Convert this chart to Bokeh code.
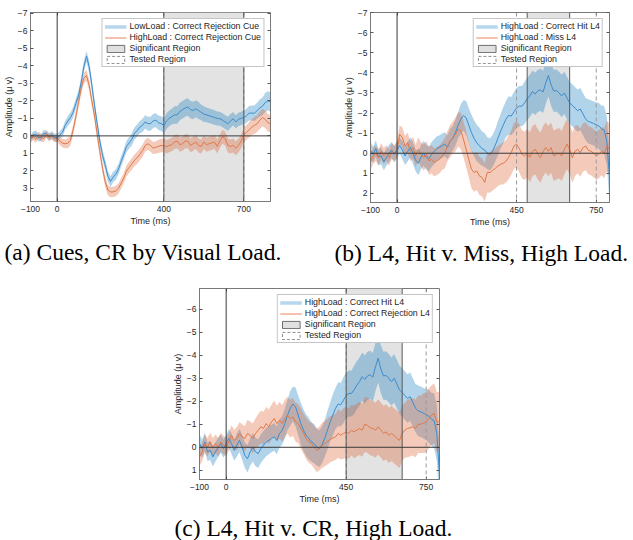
import numpy as np
from bokeh.plotting import figure
from bokeh.models import (ColumnDataSource, Range1d, FixedTicker, Span, BoxAnnotation,
                          Legend, LegendItem, LinearAxis, CustomJSTickFormatter)
from bokeh.layouts import row, column
from bokeh.embed import file_html
from bokeh.resources import INLINE

# ---------------- data ----------------
time_ms = list(range(-100, 801, 10))

# (a) Cues, CR by visual load
cue_low_cr = [0.15, -0.05, -0.10, 0.10, 0.10, -0.15, -0.10, 0.05, -0.05, 0.10, 0.10,
              -0.05, -0.20, -0.60, -0.85, -1.05, -1.35, -1.85, -2.30, -3.05, -3.95,
              -4.55, -3.95, -2.90, -1.75, -0.70, 0.30, 1.10, 1.65, 2.30, 2.60,
              2.35, 2.20, 1.90, 1.45, 1.05, 0.60, 0.40, 0.20, -0.15, -0.30,
              -0.50, -0.60, -0.80, -0.70, -0.70, -0.85, -0.90, -0.75, -0.70, -0.60,
              -0.85, -1.00, -1.10, -1.20, -1.20, -1.40, -1.50, -1.60, -1.65, -1.50,
              -1.45, -1.55, -1.45, -1.35, -1.25, -1.20, -1.15, -1.10, -1.05, -1.00,
              -0.98, -0.90, -0.80, -0.70, -0.85, -0.98, -0.80, -0.95, -1.00, -1.05,
              -1.15, -1.30, -1.30, -1.30, -1.45, -1.60, -1.70, -1.90, -2.00, -1.95]
cue_high_cr = [0.20, 0.05, 0.20, -0.05, 0.10, 0.15, -0.10, 0.10, 0.00, 0.15, 0.15,
               0.30, 0.42, 0.45, 0.42, 0.25, -0.35, -1.10, -1.90, -2.70, -3.30,
               -3.45, -2.90, -2.00, -1.15, -0.10, 0.90, 1.85, 2.60, 3.10, 3.20,
               3.20, 3.15, 3.00, 2.70, 2.40, 2.00, 1.80, 1.60, 1.40, 1.25,
               1.05, 0.85, 0.55, 0.45, 0.55, 0.70, 0.65, 0.60, 0.55, 0.55,
               0.62, 0.55, 0.50, 0.35, 0.30, 0.50, 0.45, 0.30, 0.30, 0.55,
               0.45, 0.35, 0.55, 0.60, 0.35, 0.50, 0.45, 0.40, 0.35, 0.60,
               0.30, 0.05, 0.15, 0.55, 0.60, 0.55, 0.70, 0.55, 0.30, -0.05,
               -0.20, -0.35, -0.50, -0.60, -0.70, -0.90, -1.05, -0.95, -0.75, -0.70]
# half-widths of the shaded bands, every 20 ms
cue_low_hw = [0.20, 0.22, 0.20, 0.20, 0.22, 0.22,
              0.25, 0.28, 0.30, 0.30, 0.32, 0.35, 0.30, 0.30, 0.30, 0.30,
              0.30, 0.30, 0.32, 0.35, 0.35, 0.38, 0.40, 0.40, 0.42, 0.45,
              0.45, 0.50, 0.50, 0.50, 0.50, 0.48, 0.45, 0.42, 0.42, 0.40,
              0.40, 0.40, 0.38, 0.38, 0.40, 0.42, 0.45, 0.50, 0.55, 0.55]
cue_high_hw = [0.20, 0.20, 0.22, 0.20, 0.20, 0.22,
               0.25, 0.28, 0.30, 0.30, 0.32, 0.30, 0.30, 0.30, 0.30, 0.30,
               0.30, 0.30, 0.32, 0.33, 0.35, 0.35, 0.35, 0.35, 0.38, 0.38,
               0.38, 0.40, 0.40, 0.40, 0.40, 0.40, 0.40, 0.40, 0.40, 0.40,
               0.40, 0.40, 0.40, 0.40, 0.42, 0.45, 0.48, 0.50, 0.50, 0.50]

# L4, high load
l4_hit = [-0.16, 0.06, -0.23, 0.20, 0.13, 0.42, 0.20, 0.00, -0.16, 0.06, -0.16,
          -0.38, -0.16, 0.13, -0.09, -0.30, 0.00, 0.35, 0.50, 0.20, 0.00,
          0.20, 0.28, 0.06, -0.09, -0.23, -0.30, -0.38, -0.45, -0.30, -0.60,
          -0.74, -1.03, -1.40, -1.69, -1.88, -1.76, -1.40, -1.03, -0.74, -0.52,
          -0.38, -0.23, -0.16, 0.00, 0.06, -0.12, -0.40, -0.75, -1.10, -1.40,
          -1.69, -1.88, -1.85, -2.05, -2.25, -2.34, -2.34, -2.50, -2.70, -2.85,
          -3.07, -2.95, -3.10, -3.15, -3.05, -3.50, -3.87, -3.40, -3.10, -3.12,
          -3.00, -2.85, -3.00, -2.75, -2.50, -2.38, -2.25, -2.12, -2.20, -1.95,
          -1.70, -1.58, -1.54, -1.48, -1.42, -1.35, -1.22, -1.15, -0.60, 1.20]
l4_miss = [0.45, 0.13, 0.00, 0.22, -0.10, 0.13, 0.00, 0.22, -0.10, 0.00, -0.20,
           -0.94, -0.78, -0.36, -0.53, -0.10, -0.28, 0.13, -0.20, 0.05, 0.22,
           0.05, 0.38, 0.30, 0.46, 0.38, 0.30, 0.13, 0.00, -0.36, -0.60,
           -0.78, -0.94, -1.19, -1.11, -0.70, -0.20, 0.30, 0.79, 0.96, 0.88,
           1.13, 1.20, 1.45, 0.95, 0.96, 0.85, 0.75, 0.63, 0.55, 0.50,
           0.40, 0.20, -0.03, -0.36, -0.45, -0.25, 0.05, 0.13, 0.00, 0.20,
           -0.10, -0.20, 0.05, 0.22, -0.10, -0.28, -0.10, -0.28, 0.13, 0.05,
           0.00, 0.13, -0.20, -0.45, -0.20, 0.22, -0.10, -0.20, -0.03, -0.28,
           -0.36, -0.15, -0.10, 0.00, 0.13, 0.05, -0.10, 0.00, -0.36, -0.20]
l4_cr = [0.42, 0.20, -0.16, 0.00, -0.23, 0.00, -0.16, 0.00, -0.23, -0.10, 0.00,
         -0.23, -0.52, -0.30, -0.38, -0.60, -0.45, -0.38, -0.60, -0.52, -0.38,
         -0.60, -0.74, -0.89, -0.82, -1.03, -0.89, -1.10, -1.25, -1.03, -1.18,
         -1.03, -1.25, -1.40, -1.25, -1.32, -1.10, -1.03, -0.82, -0.60, -0.38,
         -0.23, -0.16, 0.00, 0.13, 0.05, -0.09, -0.16, -0.25, -0.35, -0.40,
         -0.45, -0.60, -0.52, -0.60, -0.65, -0.60, -0.74, -0.67, -0.75, -0.82,
         -0.74, -1.00, -0.95, -0.85, -0.82, -0.74, -0.89, -0.75, -0.60, -0.67,
         -0.52, -0.60, -0.50, -0.40, -0.30, -0.60, -0.74, -0.82, -0.85, -0.89,
         -0.82, -1.00, -1.00, -1.05, -1.10, -1.25, -1.40, -1.47, -1.10, -1.10]
l4_hit_hw = [0.40, 0.40, 0.42, 0.42, 0.40, 0.40,
             0.45, 0.50, 0.55, 0.60, 0.62, 0.62, 0.62, 0.60, 0.60, 0.62,
             0.65, 0.75, 0.85, 0.90, 0.90, 0.85, 0.80, 0.80, 0.85, 0.90,
             0.95, 1.00, 1.00, 1.05, 1.05, 1.05, 1.05, 1.05, 1.05, 1.05,
             1.05, 1.05, 1.05, 1.05, 1.05, 1.10, 1.10, 1.15, 1.20, 1.25]
l4_miss_hw = [0.40, 0.40, 0.40, 0.40, 0.40, 0.45,
              0.50, 0.50, 0.55, 0.60, 0.65, 0.70, 0.70, 0.70, 0.75, 0.80,
              0.85, 0.90, 0.90, 0.95, 0.95, 0.95, 1.00, 1.00, 1.00, 1.05,
              1.10, 1.15, 1.20, 1.20, 1.25, 1.25, 1.25, 1.25, 1.25, 1.25,
              1.25, 1.25, 1.25, 1.20, 1.20, 1.20, 1.20, 1.20, 1.25, 1.25]
l4_cr_hw = [0.40, 0.40, 0.40, 0.40, 0.40, 0.40,
            0.45, 0.50, 0.55, 0.60, 0.65, 0.70, 0.72, 0.75, 0.78, 0.80,
            0.80, 0.82, 0.85, 0.88, 0.90, 0.92, 0.95, 0.98, 1.00, 1.00,
            1.05, 1.10, 1.10, 1.15, 1.15, 1.20, 1.20, 1.20, 1.20, 1.20,
            1.20, 1.20, 1.20, 1.25, 1.25, 1.25, 1.30, 1.30, 1.30, 1.30]

# regions (ms)
sig_a, tested_a = [400, 700], [400, 700]
sig_b, tested_b = [490, 650], [450, 750]
sig_c, tested_c = [450, 660], [450, 750]

xticks_a = [-100, 0, 400, 700]
xticks_bc = [-100, 0, 450, 750]
yticks_a = [-7, -6, -5, -4, -3, -2, -1, 0, 1, 2, 3]
yticks_b = [-7, -6, -5, -4, -3, -2, -1, 0, 1, 2]
yticks_c = [-6, -5, -4, -3, -2, -1, 0, 1]

BLUE_BAND, BLUE_LINE = "#0072BD", "#3a8ccc"
ORANGE_BAND, ORANGE_LINE = "#D95319", "#e07848"
SANS = "Liberation Sans"
NAN = np.array([np.nan])
AXIS_COL = "#7a7a7a"
TICK_COL = "#555555"


def mirror_axis(p, ticks, side):
    ax = LinearAxis(ticker=FixedTicker(ticks=ticks),
                    formatter=CustomJSTickFormatter(code="return ''"),
                    major_tick_in=3, major_tick_out=0, minor_tick_line_color=None,
                    axis_line_color=None, major_tick_line_color=TICK_COL,
                    major_label_text_font_size="1px", major_label_standoff=0)
    p.add_layout(ax, side)


def make_panel(fw, fh, yr, xticks, yticks, caption, cap_off, cap_stand, borders):
    p = figure(frame_width=fw, frame_height=fh, x_range=Range1d(-100, 800),
               y_range=Range1d(yr[0], yr[1]), output_backend="svg",
               toolbar_location=None, title=caption, title_location="below",
               min_border_left=borders[0], min_border_right=borders[1],
               min_border_top=borders[2], min_border_bottom=borders[3],
               x_axis_label="Time (ms)", y_axis_label="Amplitude (\u03bc v)")
    p.title.text_font = "Liberation Serif"
    p.title.text_font_size = "23.5px"
    p.title.text_font_style = "normal"
    p.title.text_color = "black"
    p.title.align = "left"
    p.title.offset = cap_off
    p.title.standoff = cap_stand
    p.xaxis.ticker = FixedTicker(ticks=xticks)
    p.yaxis.ticker = FixedTicker(ticks=yticks)
    for ax in (p.xaxis[0], p.yaxis[0]):
        ax.major_tick_in = 3
        ax.major_tick_out = 0
        ax.minor_tick_line_color = None
        ax.axis_line_color = AXIS_COL
        ax.major_tick_line_color = TICK_COL
        ax.major_label_text_font = SANS
        ax.major_label_text_font_size = "8.5px"
        ax.major_label_text_color = "#262626"
        ax.axis_label_text_font = SANS
        ax.axis_label_text_font_size = "9px"
        ax.axis_label_text_font_style = "normal"
        ax.axis_label_text_color = "#262626"
    p.xaxis.major_label_standoff = 4
    p.xaxis.axis_label_standoff = 1
    p.yaxis.major_label_standoff = 3
    p.yaxis.axis_label_standoff = 1
    mirror_axis(p, yticks, "right")
    mirror_axis(p, xticks, "above")
    p.xgrid.visible = False
    p.ygrid.visible = False
    p.outline_line_color = AXIS_COL
    p.background_fill_color = "white"
    return p


def draw(p, sig, tested, series, labels):
    p.add_layout(BoxAnnotation(left=sig[0], right=sig[1], fill_color="#e3e3e3",
                               fill_alpha=1.0, line_color=None, level="underlay"))
    for mean, hw, band_col, line_col in series:
        m = np.array(mean)
        h = np.repeat(np.array(hw), 2)[:len(m)]
        src = ColumnDataSource(dict(t=time_ms, m=m, lo=m - h, hi=m + h))
        p.varea(x="t", y1="lo", y2="hi", source=src, fill_color=band_col, fill_alpha=0.3)
    for mean, hw, band_col, line_col in series:
        p.line(x=time_ms, y=mean, line_color=line_col, line_width=1)
    for t in tested:
        p.add_layout(Span(location=t, dimension="height", line_color="#9a9a9a",
                          line_dash="4 3", line_width=1))
    for t in sig:
        p.add_layout(Span(location=t, dimension="height", line_color="#5a5a5a", line_width=1))
    p.add_layout(Span(location=0, dimension="height", line_color="#3a3a3a", line_width=1))
    p.add_layout(Span(location=0, dimension="width", line_color="#3a3a3a", line_width=1))

    # legend-only renderers (no visible marks)
    r1 = p.line(x=NAN, y=NAN, line_color="#b6d7ee", line_width=3.5)
    r2 = p.line(x=NAN, y=NAN, line_color="#e8845c", line_width=1)
    r3 = p.quad(left=NAN, right=NAN, top=NAN, bottom=NAN, fill_color="#e0e0e0",
                line_color="#6e6e6e", line_width=1)
    r4 = p.quad(left=NAN, right=NAN, top=NAN, bottom=NAN, fill_color="white",
                line_color="#8c8c8c", line_width=1, line_dash="3 2")
    legend = Legend(items=[LegendItem(label=labels[0], renderers=[r1]),
                           LegendItem(label=labels[1], renderers=[r2]),
                           LegendItem(label="Significant Region", renderers=[r3]),
                           LegendItem(label="Tested Region", renderers=[r4])],
                    location="top_right")
    legend.label_text_font = SANS
    legend.label_text_font_size = "8.8px"
    legend.label_text_color = "#262626"
    legend.glyph_width = 22
    legend.glyph_height = 9
    legend.label_height = 9
    legend.spacing = 1
    legend.padding = 2
    legend.margin = 6
    legend.label_standoff = 3
    legend.border_line_color = "#8c8c8c"
    legend.border_line_width = 1
    legend.background_fill_alpha = 1.0
    p.add_layout(legend)


pa = make_panel(240, 189, (3.75, -7.05), xticks_a, yticks_a,
                "(a) Cues, CR by Visual Load.", -26, 16, (29, 61, 12, 0))
draw(pa, sig_a, tested_a,
     [(cue_low_cr, cue_low_hw, BLUE_BAND, BLUE_LINE),
      (cue_high_cr, cue_high_hw, ORANGE_BAND, ORANGE_LINE)],
     ["LowLoad : Correct Rejection Cue", "HighLoad : Correct Rejection Cue"])

pb = make_panel(239, 190, (2.45, -7.0), xticks_bc, yticks_b,
                "(b) L4, Hit v. Miss, High Load.", -36, 16, (39, 22, 11, 0))
draw(pb, sig_b, tested_b,
     [(l4_hit, l4_hit_hw, BLUE_BAND, BLUE_LINE),
      (l4_miss, l4_miss_hw, ORANGE_BAND, ORANGE_LINE)],
     ["HighLoad : Correct Hit L4", "HighLoad : Miss L4"])

pc = make_panel(240, 191, (1.4, -6.9), xticks_bc, yticks_c,
                "(c) L4, Hit v. CR, High Load.", -25, 12, (199, 60, 16, 0))
draw(pc, sig_c, tested_c,
     [(l4_hit, l4_hit_hw, BLUE_BAND, BLUE_LINE),
      (l4_cr, l4_cr_hw, ORANGE_BAND, ORANGE_LINE)],
     ["HighLoad : Correct Hit L4", "HighLoad : Correct Rejection L4"])

layout = column(row(pa, pb), pc)

open("out.html", "w").write(file_html(layout, INLINE))
